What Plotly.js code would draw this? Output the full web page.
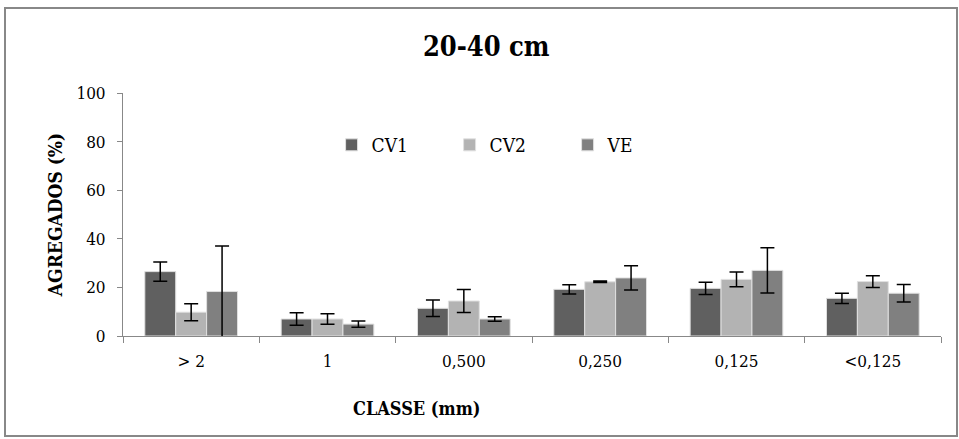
<!DOCTYPE html>
<html>
<head>
<meta charset="utf-8">
<script src="https://cdn.plot.ly/plotly-3.0.1.min.js"></script>
<style>html,body{margin:0;padding:0;background:#fff;}#chart{width:959px;height:439px;}</style>
</head>
<body>
<div id="chart"></div>
<script>
const categories = ["> 2", "1", "0,500", "0,250", "0,125", "<0,125"];
const cv1 = [26.5, 7.0, 11.4, 19.2, 19.6, 15.5];
const cv1Err = [4.0, 2.6, 3.4, 1.9, 2.5, 2.1];
const cv2 = [9.8, 7.0, 14.4, 22.3, 23.3, 22.4];
const cv2Err = [3.5, 2.2, 4.7, 0.3, 3.0, 2.4];
const ve = [18.3, 4.9, 7.0, 23.9, 27.0, 17.6];
const veErr = [18.7, 1.3, 0.9, 5.0, 9.3, 3.6];

function series(name, y, err, color) {
  return {
    type: 'bar', name: name, x: categories, y: y,
    marker: {color: color, line: {color: '#e0e0e0', width: 1}},
    error_y: {type: 'data', array: err, visible: true, color: '#000', thickness: 1.5, width: 7}
  };
}

const data = [
  series('CV1', cv1, cv1Err, '#606060'),
  series('CV2', cv2, cv2Err, '#b3b3b3'),
  series('VE', ve, veErr, '#808080')
];

const serif = 'DejaVu Serif Condensed';
const layout = {
  width: 959, height: 439,
  margin: {l: 123, r: 18, t: 93, b: 103},
  paper_bgcolor: '#fff', plot_bgcolor: '#fff',
  font: {family: serif, size: 17, color: '#000'},
  barmode: 'group', bargap: 0.32, bargroupgap: 0,
  showlegend: true,
  title: {text: '<b>20-40 cm</b>', font: {family: serif, size: 27, color: '#000'}, x: 0.507, xanchor: 'center', y: 0.895, yanchor: 'middle'},
  xaxis: {
    type: 'category', tickson: 'boundaries', ticks: 'outside', ticklen: 6, tickcolor: '#888',
    showline: true, linecolor: '#888', linewidth: 1, showgrid: false, zeroline: false,
    tickfont: {family: serif, size: 17, color: '#000'}, ticklabelstandoff: 10
  },
  yaxis: {
    range: [0, 100], dtick: 20, ticks: 'outside', ticklen: 5, tickcolor: '#888',
    showline: true, linecolor: '#888', linewidth: 1, showgrid: false, zeroline: false,
    tickfont: {family: serif, size: 17, color: '#000'}, ticklabelstandoff: 8,
    title: {text: '<b>AGREGADOS (%)</b>', font: {family: serif, size: 19, color: '#000'}, standoff: 8}
  },
  annotations: [{
    text: '<b>CLASSE (mm)</b>', xref: 'paper', yref: 'paper',
    x: (416 - 123) / 818, y: (336 - 408) / 243, xanchor: 'center', yanchor: 'middle',
    showarrow: false, font: {family: serif, size: 18, color: '#000'}
  }],
  legend: {
    orientation: 'h', x: 0.255, xanchor: 'left', y: 0.786, yanchor: 'middle',
    font: {family: serif, size: 19, color: '#000'},
    entrywidth: 73, entrywidthmode: 'pixels', itemwidth: 30,
    bgcolor: 'rgba(0,0,0,0)'
  },
  shapes: [{
    type: 'rect', xref: 'paper', yref: 'paper',
    x0: (5 - 123) / 818, x1: (957 - 123) / 818,
    y0: (336 - 436) / 243, y1: (336 - 8) / 243,
    line: {color: '#888', width: 2}, fillcolor: 'rgba(0,0,0,0)', layer: 'below'
  }]
};

Plotly.newPlot('chart', data, layout, {displayModeBar: false, staticPlot: true});
</script>
</body>
</html>
